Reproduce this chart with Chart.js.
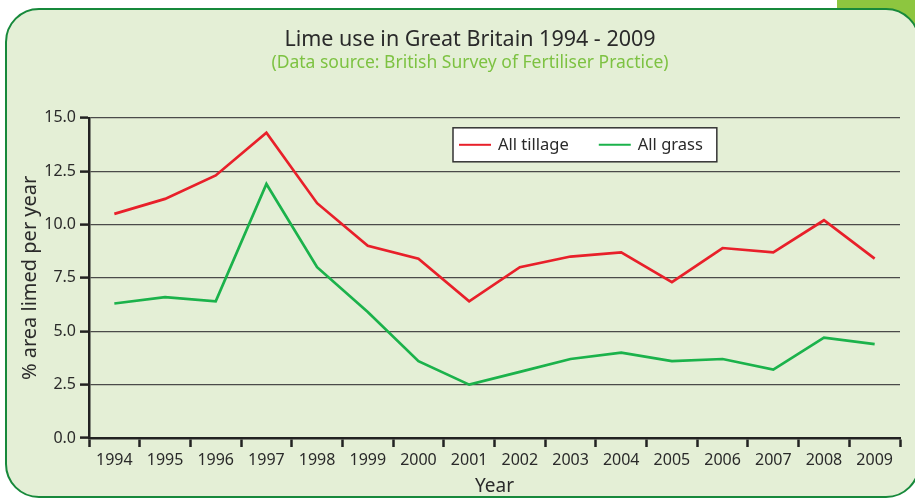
<!DOCTYPE html>
<html>
<head>
<meta charset="utf-8">
<script src="https://cdn.jsdelivr.net/npm/chart.js@4.4.1/dist/chart.umd.min.js"></script>
<style>
  html,body{margin:0;padding:0;background:#fff;width:915px;height:498px;overflow:hidden;position:relative;}
  .tab{position:absolute;left:837px;top:0;width:78px;height:40px;background:#8dc63f;}
  .panel{position:absolute;left:5px;top:8px;width:915px;height:490px;box-sizing:border-box;
    border:2.5px solid #17893b;border-radius:34px;background:#e4efd6;}
  canvas{position:absolute;left:0;top:0;}
</style>
</head>
<body>
<div class="tab"></div>
<div class="panel"></div>
<canvas id="c" width="915" height="498"></canvas>
<script>
/* Lime use in Great Britain 1994 - 2009 */
const YEARS=['1994','1995','1996','1997','1998','1999','2000','2001','2002','2003','2004','2005','2006','2007','2008','2009'];
const TILLAGE=[10.5,11.2,12.3,14.3,11.0,9.0,8.4,6.4,8.0,8.5,8.7,7.3,8.9,8.7,10.2,8.4];
const GRASS=[6.3,6.6,6.4,11.9,8.0,5.9,3.6,2.5,3.1,3.7,4.0,3.6,3.7,3.2,4.7,4.4];
const Y_TICKS=[0,2.5,5,7.5,10,12.5,15];

const FONT="'Noto Sans', sans-serif";
const RED='#e8202a', GREEN='#1bb24b', INK='#2a2a2a';

// legend drawn as a white box inside the plot, from the datasets
const boxLegend={
  id:'boxLegend',
  afterDraw(chart){
    const {ctx,chartArea}=chart;
    const x=chartArea.left+364, y=chartArea.top+10, h=34;
    ctx.save();
    ctx.font='16.5px '+FONT;
    let w=12;
    chart.data.datasets.forEach((ds,i)=>{w+=39+ctx.measureText(ds.label).width+(i?8:30);});
    ctx.fillStyle='#fff'; ctx.fillRect(x,y,w,h);
    ctx.strokeStyle='#333'; ctx.lineWidth=1.5; ctx.strokeRect(x,y,w,h);
    let cx=x+6; const cy=y+h/2;
    chart.data.datasets.forEach(ds=>{
      ctx.strokeStyle=ds.borderColor; ctx.lineWidth=2;
      ctx.beginPath(); ctx.moveTo(cx,cy); ctx.lineTo(cx+32,cy); ctx.stroke();
      ctx.fillStyle=INK; ctx.textBaseline='middle'; ctx.textAlign='left';
      ctx.fillText(ds.label,cx+39,cy);
      cx+=39+ctx.measureText(ds.label).width+30;
    });
    ctx.restore();
  }
};

new Chart(document.getElementById('c'),{
  type:'line',
  data:{labels:YEARS,datasets:[
    {label:'All tillage',data:TILLAGE,borderColor:RED,backgroundColor:RED,borderWidth:2.7,pointRadius:0,tension:0},
    {label:'All grass',data:GRASS,borderColor:GREEN,backgroundColor:GREEN,borderWidth:2.7,pointRadius:0,tension:0}
  ]},
  plugins:[boxLegend],
  options:{
    responsive:false,animation:false,devicePixelRatio:1,
    layout:{padding:{left:40,right:15,top:0,bottom:0}},
    plugins:{
      legend:{display:false},tooltip:{enabled:false},
      title:{display:true,text:'Lime use in Great Britain 1994 - 2009',color:INK,
        font:{family:FONT,size:21.5,weight:'normal'},padding:{top:27,bottom:0}},
      subtitle:{display:true,text:'(Data source: British Survey of Fertiliser Practice)',color:'#7dc242',
        font:{family:FONT,size:17.5,weight:'normal'},padding:{top:0,bottom:44}}
    },
    scales:{
      x:{
        offset:true,
        grid:{offset:true,drawOnChartArea:false,drawTicks:true,tickLength:9,tickColor:'#222',tickWidth:2.5},
        border:{display:true,color:'#222',width:2.5},
        ticks:{color:INK,font:{family:FONT,size:16},padding:4,maxRotation:0,autoSkip:false},
        title:{display:true,text:'Year',color:INK,font:{family:FONT,size:19},padding:{top:0,bottom:0}},
        afterFit(s){s.height=60;}
      },
      y:{
        min:0,max:15,
        afterBuildTicks(s){s.ticks=Y_TICKS.map(v=>({value:v}));},
        grid:{color:'#4a4a4a',lineWidth:1.2,tickLength:9,tickColor:'#222',tickWidth:2.5},
        border:{display:true,color:'#222',width:2.5},
        ticks:{color:INK,font:{family:FONT,size:16},padding:4,callback:v=>v.toFixed(1)},
        title:{display:true,text:'% area limed per year',color:INK,font:{family:FONT,size:20},padding:{top:-22,bottom:0}},
        afterFit(s){s.width=49;}
      }
    }
  }
});
</script>
</body>
</html>
